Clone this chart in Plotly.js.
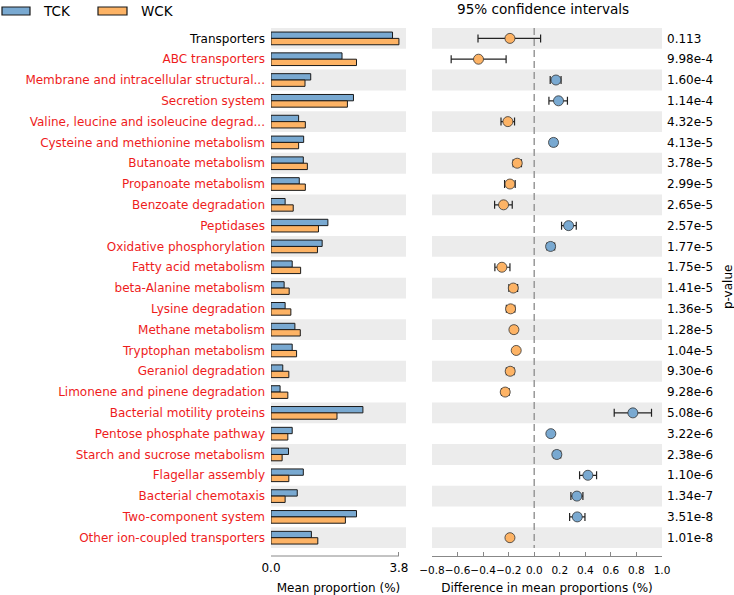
<!DOCTYPE html>
<html><head><meta charset="utf-8">
<script src="https://cdn.plot.ly/plotly-3.0.1.min.js"></script>
<style>html,body{margin:0;padding:0;background:#fff}#chart{width:734px;height:595px}</style>
</head><body><div id="chart"></div><script>
const categories = [
  "Transporters","ABC transporters","Membrane and intracellular structural...","Secretion system",
  "Valine, leucine and isoleucine degrad...","Cysteine and methionine metabolism","Butanoate metabolism",
  "Propanoate metabolism","Benzoate degradation","Peptidases","Oxidative phosphorylation",
  "Fatty acid metabolism","beta-Alanine metabolism","Lysine degradation","Methane metabolism",
  "Tryptophan metabolism","Geraniol degradation","Limonene and pinene degradation",
  "Bacterial motility proteins","Pentose phosphate pathway","Starch and sucrose metabolism",
  "Flagellar assembly","Bacterial chemotaxis","Two-component system","Other ion-coupled transporters"
];
const tckMean = [3.61,2.11,1.18,2.45,0.82,0.97,0.96,0.84,0.42,1.69,1.52,0.63,0.39,0.42,0.71,0.63,0.35,0.27,2.73,0.63,0.52,0.96,0.78,2.54,1.20];
const wckMean = [3.80,2.54,1.01,2.27,1.02,0.82,1.08,1.02,0.66,1.41,1.38,0.88,0.54,0.59,0.87,0.76,0.53,0.50,1.96,0.50,0.33,0.53,0.42,2.21,1.39];
const meanDiff = [-0.19,-0.436,0.17,0.19,-0.206,0.151,-0.133,-0.19,-0.24,0.269,0.128,-0.253,-0.164,-0.185,-0.159,-0.141,-0.188,-0.227,0.772,0.130,0.177,0.42,0.334,0.337,-0.19];
const ciLow = [-0.44,-0.65,0.125,0.115,-0.26,0.127,-0.165,-0.232,-0.31,0.214,0.099,-0.308,-0.198,-0.218,-0.183,-0.161,-0.218,-0.256,0.626,0.114,0.151,0.355,0.287,0.277,-0.208];
const ciHigh = [0.05,-0.22,0.21,0.26,-0.154,0.175,-0.10,-0.149,-0.172,0.329,0.16,-0.19,-0.13,-0.152,-0.135,-0.121,-0.158,-0.197,0.918,0.146,0.207,0.488,0.381,0.397,-0.172];
const pValues = ["0.113","9.98e-4","1.60e-4","1.14e-4","4.32e-5","4.13e-5","3.78e-5","2.99e-5","2.65e-5","2.57e-5","1.77e-5","1.75e-5","1.41e-5","1.36e-5","1.28e-5","1.04e-5","9.30e-6","9.28e-6","5.08e-6","3.22e-6","2.38e-6","1.10e-6","1.34e-7","3.51e-8","1.01e-8"];
const groupNames = ["TCK","WCK"];

const BLUE = "#79a9d1", ORANGE = "#fdb365";
const FONT = "DejaVu Sans";
const W = 734, H = 595, T = 28, B = 39;
const plotH = H - T - B;
const idx = categories.map((_, i) => i);
const yRange = [24.88, -0.5];

const tickText = categories.map((c, i) =>
  parseFloat(pValues[i]) < 0.05 ? '<span style="color:#ee1c1c">' + c + '</span>' : c);

const traces = [
  {type:"bar", orientation:"h", name:groupNames[0], x:tckMean, y:idx, xaxis:"x", yaxis:"y",
   marker:{color:BLUE, line:{color:"#1a1a1a", width:1}}, hoverinfo:"skip", showlegend:false},
  {type:"bar", orientation:"h", name:groupNames[1], x:wckMean, y:idx, xaxis:"x", yaxis:"y",
   marker:{color:ORANGE, line:{color:"#1a1a1a", width:1}}, hoverinfo:"skip", showlegend:false},
  {type:"scatter", mode:"markers", x:meanDiff, y:idx, xaxis:"x2", yaxis:"y2",
   marker:{size:10, color:meanDiff.map(d => d < 0 ? ORANGE : BLUE), line:{color:"#333", width:0.8}},
   error_x:{type:"data", symmetric:false,
     array:ciHigh.map((h, i) => h - meanDiff[i]),
     arrayminus:ciLow.map((l, i) => meanDiff[i] - l),
     color:"#222", thickness:1.2, width:4},
   hoverinfo:"skip", showlegend:false}
];

const shapes = [];
for (let i = 0; i < categories.length; i += 2) {
  shapes.push({type:"rect", xref:"x domain", yref:"y", x0:0, x1:1, y0:i-0.5, y1:i+0.5,
    fillcolor:"#ececec", line:{width:0}, layer:"below"});
  shapes.push({type:"rect", xref:"x2 domain", yref:"y2", x0:0, x1:1, y0:i-0.5, y1:i+0.5,
    fillcolor:"#ececec", line:{width:0}, layer:"below"});
}
shapes.push({type:"line", xref:"x2", yref:"y2", x0:0, x1:0, y0:-0.5, y1:categories.length-0.5,
  line:{color:"#999", width:1.5, dash:"7px,4px"}});
shapes.push({type:"line", xref:"x", yref:"paper", x0:0, x1:3.8, y0:0, y1:0,
  line:{color:"#888", width:1}});
function py(px){ return 1 + (T - px) / plotH; }
shapes.push({type:"rect", xref:"paper", yref:"paper", x0:2/W, x1:30/W, y0:py(15), y1:py(7),
  fillcolor:BLUE, line:{color:"#1a1a1a", width:1.2}});
shapes.push({type:"rect", xref:"paper", yref:"paper", x0:98/W, x1:127/W, y0:py(15), y1:py(7),
  fillcolor:ORANGE, line:{color:"#1a1a1a", width:1.2}});

const annotations = [
  {text:groupNames[0], xref:"paper", yref:"paper", x:41/W, y:py(11), xanchor:"left", yanchor:"middle",
   showarrow:false, font:{family:FONT, size:13.5, color:"#000"}},
  {text:groupNames[1], xref:"paper", yref:"paper", x:139/W, y:py(11), xanchor:"left", yanchor:"middle",
   showarrow:false, font:{family:FONT, size:13.5, color:"#000"}},
  {text:"95% confidence intervals", xref:"paper", yref:"paper", x:542.5/W, y:py(9), xanchor:"center", yanchor:"middle",
   showarrow:false, font:{family:FONT, size:13.6, color:"#000"}},
  {text:"p-value", xref:"paper", yref:"paper", x:728/W, y:1-(287-T)/plotH, xanchor:"center", yanchor:"middle",
   textangle:-90, showarrow:false, font:{family:FONT, size:12, color:"#000"}}
];

const layout = {
  width:W, height:H,
  margin:{l:0, r:0, t:T, b:B, pad:0},
  paper_bgcolor:"#fff", plot_bgcolor:"rgba(0,0,0,0)",
  font:{family:FONT, size:12, color:"#000"},
  barmode:"group", bargap:0.39, bargroupgap:0,
  showlegend:false,
  xaxis:{domain:[271/W, 406/W], range:[0, 4.01], anchor:"y",
    tickmode:"array", tickvals:[0, 3.8], ticktext:["0.0","3.8"], tickangle:0,
    ticks:"inside", ticklen:4, tickcolor:"#888", showline:false, showgrid:false, zeroline:false,
    ticklabelstandoff:3, tickfont:{family:FONT, size:12},
    title:{text:"Mean proportion (%)", font:{family:FONT, size:12}, standoff:10}},
  yaxis:{domain:[0,1], range:yRange, anchor:"x",
    tickmode:"array", tickvals:idx, ticktext:tickText, ticks:"", showline:false, showgrid:false, zeroline:false,
    ticklabelstandoff:5, tickfont:{family:FONT, size:12}},
  xaxis2:{domain:[432/W, 662/W], range:[-0.8, 1.0], anchor:"y2",
    tickmode:"linear", tick0:-0.8, dtick:0.2, tickformat:".1f", tickangle:0,
    ticks:"inside", ticklen:4, tickcolor:"#888", showline:true, linecolor:"#888", linewidth:1,
    showgrid:false, zeroline:false, ticklabelstandoff:4, tickfont:{family:FONT, size:10.5},
    title:{text:"Difference in mean proportions (%)", font:{family:FONT, size:12}, standoff:10}},
  yaxis2:{domain:[0,1], range:yRange, anchor:"x2", side:"right",
    tickmode:"array", tickvals:idx, ticktext:pValues, ticks:"", showline:false, showgrid:false, zeroline:false,
    ticklabelstandoff:4, tickfont:{family:FONT, size:12}},
  shapes:shapes, annotations:annotations
};

Plotly.newPlot("chart", traces, layout, {staticPlot:true, displayModeBar:false});
</script></body></html>
